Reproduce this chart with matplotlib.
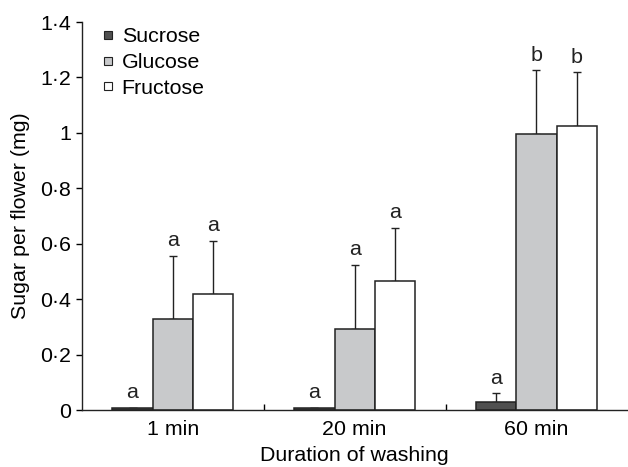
import numpy as np
import matplotlib
matplotlib.use("Agg")
import matplotlib.pyplot as plt
from matplotlib.lines import Line2D
from matplotlib.ticker import FixedLocator

plt.rcParams["font.family"] = ["Liberation Sans", "DejaVu Sans"]

# data
durations = ["1 min", "20 min", "60 min"]
sugars    = ["Sucrose", "Glucose", "Fructose"]
sucrose   = [0.006, 0.006, 0.028]
glucose   = [0.330, 0.294, 0.996]
fructose  = [0.419, 0.465, 1.023]
sucrose_err  = [0.002, 0.002, 0.032]
glucose_err  = [0.227, 0.229, 0.229]
fructose_err = [0.192, 0.192, 0.195]
sucrose_lbl  = ["a", "a", "a"]
glucose_lbl  = ["a", "a", "b"]
fructose_lbl = ["a", "a", "b"]
ytick_vals   = [0, 0.2, 0.4, 0.6, 0.8, 1.0, 1.2, 1.4]
ytick_labels = ["0", "0·2", "0·4", "0·6", "0·8", "1", "1·2", "1·4"]

COLORS = ["#505050", "#c8c9cb", "#ffffff"]
EDGE = "#222222"
FS = 15.4

fig = plt.figure(figsize=(6.28, 4.67), dpi=100)
ax = fig.add_axes([82 / 628, 1 - 410 / 467, 1 - 82 / 628 - 0.001, (410 - 22) / 467])

centers = np.arange(len(durations)) + 0.5
width = 0.222
series = [(sucrose, sucrose_err, sucrose_lbl),
          (glucose, glucose_err, glucose_lbl),
          (fructose, fructose_err, fructose_lbl)]
for i, (vals, errs, lbls) in enumerate(series):
    xs = centers + (i - 1) * width
    ax.bar(xs, vals, width=width, color=COLORS[i], edgecolor=EDGE,
           linewidth=1.1, zorder=2)
    ax.errorbar(xs, vals, yerr=[np.zeros(len(errs)), errs], fmt="none",
                ecolor=EDGE, elinewidth=1.0, capsize=3, capthick=1.0, zorder=1)
    for x, v, e, t in zip(xs, vals, errs, lbls):
        ax.annotate(t, (x, v + e), xytext=(0, 7), textcoords="offset points",
                    ha="center", va="baseline", fontsize=FS, color="#222222")

ax.set_xlim(0, 3)
ax.set_ylim(0, 1.4)
ax.set_xticks(centers)
ax.set_xticklabels(durations, fontsize=FS)
ax.tick_params(axis="x", length=0, pad=7)
ax.xaxis.set_minor_locator(FixedLocator([1, 2]))
ax.tick_params(axis="x", which="minor", direction="in", length=4, width=1.0)
ax.set_yticks(ytick_vals)
ax.set_yticklabels(ytick_labels, fontsize=FS)
ax.tick_params(axis="y", direction="out", length=4, width=1.0, pad=4)

for side in ("top", "right"):
    ax.spines[side].set_visible(False)
for side in ("left", "bottom"):
    ax.spines[side].set_linewidth(1.0)
    ax.spines[side].set_color(EDGE)

ax.set_xlabel("Duration of washing", fontsize=FS, labelpad=5)
ax.set_ylabel("Sugar per flower (mg)", fontsize=FS, labelpad=7)

handles = [Line2D([], [], linestyle="none", marker="s", markersize=6,
                  markerfacecolor=c, markeredgecolor=EDGE, markeredgewidth=0.8)
           for c in COLORS]
ax.legend(handles, sugars, loc="upper left", bbox_to_anchor=(0.008, 1.025),
          frameon=False, fontsize=FS, handlelength=0.6, handletextpad=0.35,
          labelspacing=0.32, borderpad=0.2)

fig.savefig("out.png", dpi=100)
